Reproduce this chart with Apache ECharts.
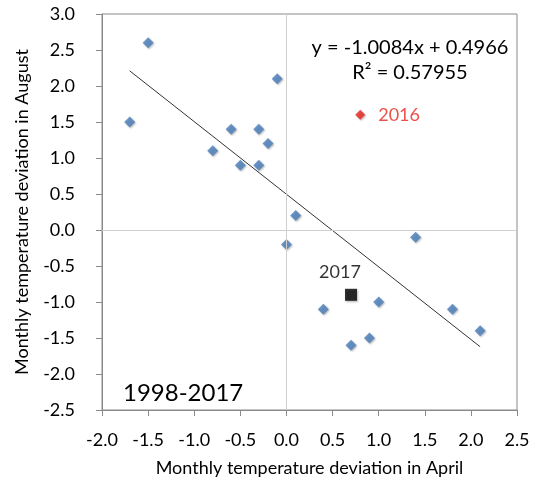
<!DOCTYPE html>
<html>
<head>
<meta charset="utf-8">
<script src="https://cdn.jsdelivr.net/npm/echarts@6/dist/echarts.min.js"></script>
<style>html,body{margin:0;padding:0;background:#fff;}#c{width:534px;height:482px;}</style>
</head>
<body>
<div id="c"></div>
<script>
// April deviation (x) and August deviation (y), 1998-2017 excluding 2016 and 2017
const aprilDev = [-1.7, -1.5, -0.8, -0.6, -0.5, -0.3, -0.3, -0.2, -0.1, 0.1, 0.0, 0.4, 0.7, 0.9, 1.0, 1.4, 1.8, 2.1];
const augustDev = [1.5, 2.6, 1.1, 1.4, 0.9, 1.4, 0.9, 1.2, 2.1, 0.2, -0.2, -1.1, -1.6, -1.5, -1.0, -0.1, -1.1, -1.4];
const point2016 = [0.8, 1.6];
const point2017 = [0.7, -0.9];
const trendX = [-1.7, 2.1];
const trendY = [2.211, -1.621];
const equationText = 'y = -1.0084x + 0.4966';
const r2Text = 'R² = 0.57955';
const periodText = '1998-2017';
const xTitle = 'Monthly temperature deviation in April';
const yTitle = 'Monthly temperature deviation in August';

const FONT = 'Lato';
const chart = echarts.init(document.getElementById('c'), null, {renderer: 'canvas'});
const shadow = {shadowBlur: 2, shadowColor: 'rgba(0,0,0,0.35)', shadowOffsetX: 1, shadowOffsetY: 1};
chart.setOption({
  animation: false,
  backgroundColor: '#fff',
  textStyle: {fontFamily: FONT},
  grid: {left: 102, top: 14, right: 17, bottom: 70, show: true, borderColor: '#8a8a8a', borderWidth: 1},
  xAxis: {
    type: 'value', min: -2, max: 2.5, interval: 0.5,
    name: xTitle, nameLocation: 'middle', nameGap: 49,
    nameTextStyle: {fontFamily: FONT, fontSize: 18, color: '#000'},
    axisLine: {show: true, onZero: false, lineStyle: {color: '#8a8a8a'}},
    axisTick: {show: true, inside: false, length: 6, lineStyle: {color: '#8a8a8a'}},
    axisLabel: {margin: 21, fontFamily: FONT, fontSize: 18, color: '#000', formatter: v => v.toFixed(1)},
    splitLine: {show: false}
  },
  yAxis: {
    type: 'value', min: -2.5, max: 3, interval: 0.5,
    name: yTitle, nameLocation: 'middle', nameGap: 71, nameRotate: 90,
    nameTextStyle: {fontFamily: FONT, fontSize: 18, color: '#000'},
    axisLine: {show: true, onZero: false, lineStyle: {color: '#8a8a8a'}},
    axisTick: {show: true, inside: false, length: 6, lineStyle: {color: '#8a8a8a'}},
    axisLabel: {margin: 27, fontFamily: FONT, fontSize: 18, color: '#000', formatter: v => v.toFixed(1)},
    splitLine: {show: false}
  },
  series: [
    {
      type: 'line', data: trendX.map((x, i) => [x, trendY[i]]),
      symbol: 'none', silent: true, z: 1,
      lineStyle: {color: '#333', width: 1},
      markLine: {
        silent: true, symbol: 'none', label: {show: false},
        lineStyle: {color: '#cfcfcf', width: 1, type: 'solid'},
        data: [{xAxis: 0}, {yAxis: 0}]
      }
    },
    {
      type: 'scatter', data: aprilDev.map((x, i) => [x, augustDev[i]]),
      symbol: 'diamond', symbolSize: 11, z: 3,
      itemStyle: Object.assign({color: '#4a7ebb'}, shadow)
    },
    {
      type: 'scatter', data: [point2016], symbol: 'diamond', symbolSize: 10, z: 3,
      itemStyle: Object.assign({color: '#e8261f'}, shadow),
      label: {show: true, position: 'right', distance: 13, formatter: '2016', color: '#e8261f', fontFamily: FONT, fontSize: 18}
    },
    {
      type: 'scatter', data: [point2017], symbol: 'rect', symbolSize: 12, z: 3,
      itemStyle: Object.assign({color: '#000'}, shadow),
      label: {show: true, position: 'top', distance: 8, offset: [-11, 0], formatter: '2017', color: '#000', fontFamily: FONT, fontSize: 18}
    }
  ],
  graphic: [
    {type: 'text', x: 410, y: 48, style: {text: equationText, align: 'center', verticalAlign: 'middle', fill: '#000', font: '20px ' + FONT}},
    {type: 'text', x: 410, y: 73, style: {text: r2Text, align: 'center', verticalAlign: 'middle', fill: '#000', font: '20px ' + FONT}},
    {type: 'text', x: 123, y: 393, style: {text: periodText, align: 'left', verticalAlign: 'middle', fill: '#000', font: '24px ' + FONT}}
  ]
});
</script>
</body>
</html>
